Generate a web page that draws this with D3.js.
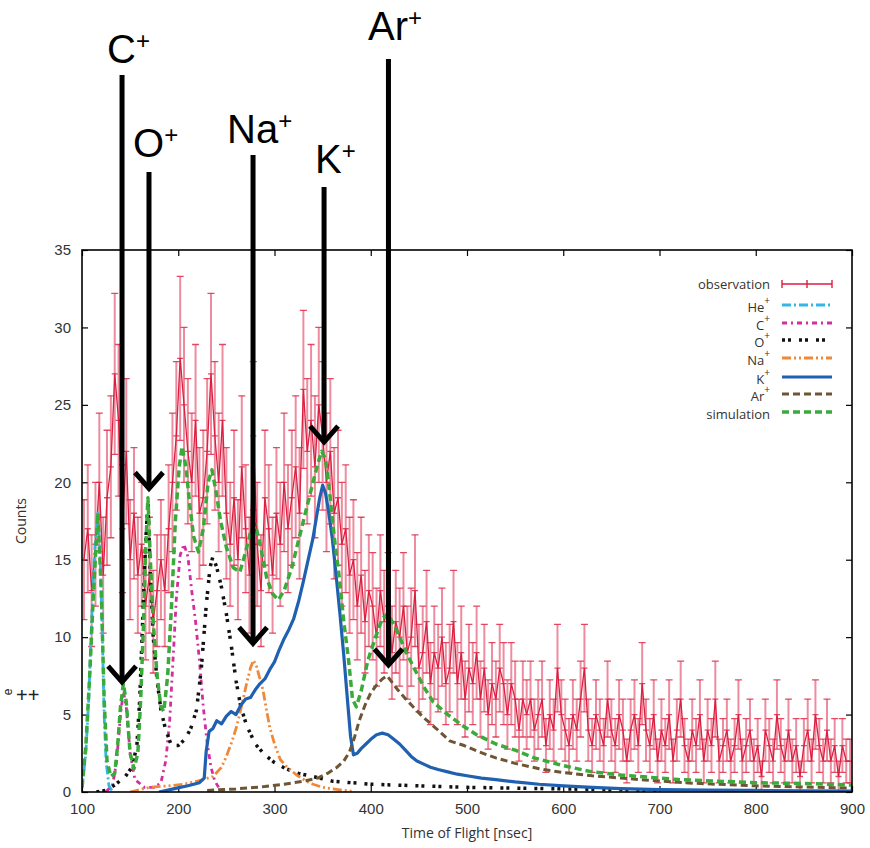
<!DOCTYPE html>
<html>
<head>
<meta charset="utf-8">
<script src="https://cdn.jsdelivr.net/npm/d3@7"></script>
<style>
    body { margin: 0; background: #fff; }
    svg { display: block; font-family: "Open Sans", "Liberation Sans", sans-serif; }
    .axis text { font-size: 15px; fill: #333; }
    .axis line { stroke: #000; stroke-width: 1.2; }
    .ion { font-family: "Liberation Sans", Arial, sans-serif; font-size: 40px; fill: #000; }
    .legend text { font-size: 13px; fill: #333; }
</style>
</head>
<body>
<svg width="870" height="848"></svg>

<script>
    // observation: counts per 4 ns bin (bin centres 102 ... 898)
    const obsTof = d3.range(102, 900, 4);
    const obsCounts = [
        15, 17, 13, 16, 20, 14, 19, 21, 27, 24,
        17, 22, 15, 18, 14, 16, 12, 14, 11, 13,
        15, 13, 17, 20, 23, 28, 25, 22, 20, 24,
        18, 19, 22, 27, 23, 20, 24, 18, 16, 19,
        15, 21, 17, 14, 23, 16, 13, 19, 17, 14,
        18, 16, 20, 17, 19, 21, 18, 26, 22, 24,
        21, 25, 23, 20, 22, 18, 19, 16, 17, 14,
        15, 12, 14, 11, 13, 12, 10, 13, 11, 12,
        9, 11, 10, 12, 9, 10, 13, 8, 9, 11,
        7, 9, 8, 10, 7, 8, 11, 7, 9, 6,
        8, 7, 9, 6, 8, 5, 7, 6, 8, 7,
        5, 7, 6, 4, 6, 5, 6, 4, 5, 6,
        3, 5, 4, 8, 5, 4, 3, 5, 4, 6,
        8, 4, 3, 5, 4, 3, 6, 4, 3, 5,
        4, 2, 4, 5, 3, 7, 4, 3, 5, 2,
        4, 3, 5, 2, 4, 6, 3, 2, 4, 3,
        5, 2, 4, 3, 6, 2, 3, 4, 2, 3,
        5, 2, 3, 4, 2, 3, 1, 4, 3, 2,
        5, 3, 2, 4, 2, 3, 1, 3, 4, 2,
        5, 3, 2, 4, 2, 3, 1, 3, 2, 2
    ];

    // simulated components
    const heTof = [100, 104, 107, 110, 113, 116.5, 119, 121, 123, 125, 128, 132];
    const heCounts = [0.3, 2.5, 6, 11, 15.5, 18, 15, 10.5, 5, 2, 0.4, 0];

    const cTof = [125, 132, 136, 140, 143, 146, 150, 155, 165, 175, 182, 187, 191, 195, 198, 202, 206, 210, 214, 218, 222, 226, 230, 234, 238, 243, 250];
    const cCounts = [0, 0.5, 2, 5, 6.5, 5.5, 2.5, 0.8, 0.3, 0.3, 0.6, 2, 4.5, 9, 12.5, 15.3, 16, 15.2, 13, 11, 8.5, 5.5, 3.2, 1.6, 0.7, 0.2, 0.05];

    const oTof = [115, 125, 135, 145, 152, 157, 160, 163, 166, 168.5, 171, 174, 178, 182, 187, 193, 200, 207, 213, 219, 224, 229, 233, 236, 240, 245, 250, 255, 260, 265, 271, 280, 290, 300, 312, 325, 340, 360, 400, 450, 500, 550, 600, 700];
    const oCounts = [0, 0.1, 0.5, 1.0, 1.6, 3, 6, 11, 16, 18.7, 14, 10, 7.2, 5.3, 4, 3, 3, 3.4, 4.1, 5.3, 8, 12, 14.5, 15.2, 14.5, 13.2, 11.5, 9.5, 7.2, 5.5, 4.3, 3.1, 2.4, 1.9, 1.5, 1.2, 1.0, 0.7, 0.5, 0.4, 0.3, 0.25, 0.2, 0.1];

    const naTof = [150, 170, 190, 205, 220, 236, 245, 250, 256, 261, 266, 271, 275, 278, 281, 284, 288, 292, 295, 300, 306, 313, 323, 333, 340, 350, 360, 380];
    const naCounts = [0, 0.3, 0.4, 0.5, 0.7, 1.0, 1.6, 2.3, 3.3, 4.3, 5.6, 7, 8, 8.5, 8.2, 7.5, 6.6, 5.2, 4.2, 3.1, 2.1, 1.6, 1.1, 0.7, 0.5, 0.3, 0.2, 0.05];

    const kTof = [180, 195, 210, 222, 227, 229, 232, 236, 240, 245, 250, 255, 260, 265, 270, 275, 280, 285, 290, 295, 300, 305, 310, 315, 320, 325, 330, 335, 340, 344, 347, 350, 353, 356, 360, 364, 368, 372, 376, 379, 382, 386, 390, 395, 400, 406, 412, 418, 424, 430, 436, 442, 448, 455, 462, 470, 480, 490, 500, 515, 530, 550, 575, 600, 630, 660, 700, 750, 800, 850, 900];
    const kCounts = [0, 0.2, 0.4, 0.6, 0.9, 2.6, 3.9, 4.1, 4.6, 4.4, 4.9, 5.2, 5.0, 5.6, 6.0, 6.1, 6.6, 7.0, 7.3, 7.9, 8.4, 9.2, 9.9, 10.5, 11.2, 12.3, 13.6, 15.0, 16.4, 17.9, 19.0, 19.8, 19.3, 18.2, 16.4, 14.0, 11.5, 8.8, 5.8, 3.6, 2.4, 2.5, 2.8, 3.1, 3.4, 3.7, 3.8, 3.7, 3.4, 3.1, 2.7, 2.3, 2.0, 1.8, 1.6, 1.45, 1.3, 1.15, 1.05, 0.9, 0.8, 0.65, 0.5, 0.4, 0.3, 0.22, 0.15, 0.12, 0.1, 0.08, 0.06];

    const arTof = [230, 260, 290, 310, 330, 345, 355, 365, 372, 378, 383, 388, 394, 400, 406, 412, 417, 422, 428, 435, 444, 455, 468, 482, 497, 512, 530, 550, 575, 600, 630, 660, 690, 725, 760, 800, 850, 900];
    const arCounts = [0.1, 0.2, 0.35, 0.5, 0.7, 0.9, 1.2, 1.6, 2.0, 2.6, 3.5, 4.6, 5.6, 6.4, 6.9, 7.3, 7.5, 7.1, 6.6, 6.1, 5.5, 4.8, 4.1, 3.3, 3.0, 2.6, 2.2, 1.85, 1.5, 1.25, 1.05, 0.9, 0.75, 0.6, 0.5, 0.4, 0.32, 0.25];

    const simTof = [100, 104, 108, 112, 116.5, 120, 123, 126, 130, 134, 137, 140, 143, 146, 150, 154, 158, 161, 164, 166, 168.5, 171, 174, 178, 182, 185, 189, 193, 197, 201, 204, 208, 212, 216, 221, 226, 231, 235, 239, 244, 250, 257, 264, 270, 276, 280, 285, 292, 298, 304, 310, 318, 326, 334, 340, 345, 349, 353, 357, 362, 367, 372, 377, 381, 385, 390, 397, 405, 412, 418, 424, 430, 437, 445, 455, 465, 480, 495, 510, 530, 550, 570, 600, 630, 660, 690, 720, 760, 800, 850, 900];
    const simCounts = [0.3, 3, 7.5, 13, 18, 13, 6, 2, 1.0, 1.2, 3, 5.5, 7, 5.8, 2.5, 1.5, 2.5, 6, 11, 15.5, 19, 15, 11, 7.5, 5.5, 5.2, 7.5, 12, 17.5, 21, 22.3, 21, 18.5, 16.5, 15.5, 17, 20, 20.8, 19.5, 17.5, 15.8, 14.5, 14.2, 15.5, 17, 17.3, 16, 13.8, 12.8, 12.4, 13, 14.5, 16.5, 18.5, 20, 21.2, 22, 21.5, 19.5, 16.5, 14, 11, 8.5, 6, 5.5, 6.5, 8.5, 10, 11.2, 11.5, 10.8, 10, 9, 8, 6.8, 5.8, 5, 4.3, 3.7, 3.1, 2.7, 2.2, 1.7, 1.3, 1.1, 0.95, 0.8, 0.7, 0.6, 0.55, 0.45];

    // axis ticks
    const xTicks = [100, 200, 300, 400, 500, 600, 700, 800, 900];
    const yTicks = [0, 5, 10, 15, 20, 25, 30, 35];

    // annotated peaks
    const ionNames = ["C", "O", "Na", "K", "Ar"];
    const ionTof = [141.6, 169.6, 277.7, 351.5, 418.4];
    const ionTipCounts = [7.1, 19.6, 9.6, 22.6, 8.2];

    // label layout (pixels)
    const ionLabelLeft = [107, 133, 227, 315, 368];
    const ionLabelBase = [63, 157, 143, 173, 40];
    const ionLineTop = [75, 172, 155, 187, 59];

    const svg = d3.select("svg");
    const plotLeft = 82, plotRight = 852, plotTop = 250, plotBottom = 792;

    const x = d3.scaleLinear().domain([100, 900]).range([plotLeft, plotRight]);
    const y = d3.scaleLinear().domain([0, 35]).range([plotBottom, plotTop]);

    svg.append("clipPath").attr("id", "clip")
        .append("rect")
        .attr("x", plotLeft).attr("y", plotTop)
        .attr("width", plotRight - plotLeft).attr("height", plotBottom - plotTop);

    // axes (ticks inward, mirrored)
    const gx = svg.append("g").attr("class", "axis")
        .attr("transform", `translate(0,${plotBottom})`)
        .call(d3.axisBottom(x).tickValues(xTicks).tickSizeInner(-6).tickSizeOuter(0).tickPadding(11));
    const gy = svg.append("g").attr("class", "axis")
        .attr("transform", `translate(${plotLeft},0)`)
        .call(d3.axisLeft(y).tickValues(yTicks).tickSizeInner(-6).tickSizeOuter(0).tickPadding(11));
    const gxt = svg.append("g").attr("class", "axis")
        .attr("transform", `translate(0,${plotTop})`)
        .call(d3.axisTop(x).tickValues(xTicks).tickSizeInner(-6).tickSizeOuter(0).tickFormat(""));
    const gyr = svg.append("g").attr("class", "axis")
        .attr("transform", `translate(${plotRight},0)`)
        .call(d3.axisRight(y).tickValues(yTicks).tickSizeInner(-6).tickSizeOuter(0).tickFormat(""));
    [gx, gy, gxt, gyr].forEach(g => g.select(".domain").remove());

    const plot = svg.append("g").attr("clip-path", "url(#clip)");

    // observation with error bars
    const obs = obsTof.map((t, i) => ({ t: t, c: obsCounts[i], e: Math.sqrt(obsCounts[i]) }));
    const obsColor = "#dc1f40";

    plot.append("g")
        .selectAll("line")
        .data(obs)
        .join("line")
        .attr("x1", d => x(d.t)).attr("x2", d => x(d.t))
        .attr("y1", d => y(d.c - d.e)).attr("y2", d => y(d.c + d.e))
        .attr("stroke", "#e2405f").attr("stroke-opacity", 0.6).attr("stroke-width", 2);

    plot.append("g")
        .selectAll("path")
        .data(obs)
        .join("path")
        .attr("d", d => {
            const cx = x(d.t);
            return `M${cx - 3.5},${y(d.c + d.e)}H${cx + 3.5}M${cx - 3.5},${y(d.c - d.e)}H${cx + 3.5}M${cx - 3},${y(d.c)}H${cx + 3}`;
        })
        .attr("stroke", obsColor).attr("stroke-opacity", 0.8).attr("stroke-width", 1.3);

    plot.append("path")
        .datum(obs)
        .attr("fill", "none")
        .attr("stroke", obsColor)
        .attr("stroke-width", 1.3)
        .attr("d", d3.line().x(d => x(d.t)).y(d => y(d.c)));

    // simulated curves
    const series = [
        { name: "He", tof: heTof, counts: heCounts, color: "#35b6e6", dash: "9,3,2,3", width: 2.8 },
        { name: "C", tof: cTof, counts: cCounts, color: "#d42d9f", dash: "5,4,2,4", width: 2.8 },
        { name: "O", tof: oTof, counts: oCounts, color: "#111", dash: "3,3,3,8", width: 3.5 },
        { name: "Na", tof: naTof, counts: naCounts, color: "#f0883a", dash: "9,3,2,3,2,3", width: 2.8 },
        { name: "K", tof: kTof, counts: kCounts, color: "#1f60b0", dash: null, width: 3.2 },
        { name: "Ar", tof: arTof, counts: arCounts, color: "#6e5533", dash: "7,4", width: 3 },
        { name: "simulation", tof: simTof, counts: simCounts, color: "#3aaa3a", dash: "7,4", width: 3.5 }
    ];

    const line = d3.line().x(d => x(d[0])).y(d => y(d[1]));
    series.forEach(s => {
        plot.append("path")
            .datum(s.tof.map((t, i) => [t, s.counts[i]]))
            .attr("fill", "none")
            .attr("stroke", s.color)
            .attr("stroke-width", s.width)
            .attr("stroke-dasharray", s.dash)
            .attr("stroke-linejoin", "round")
            .attr("d", line);
    });

    // frame
    svg.append("rect")
        .attr("x", plotLeft).attr("y", plotTop)
        .attr("width", plotRight - plotLeft).attr("height", plotBottom - plotTop)
        .attr("fill", "none").attr("stroke", "#000").attr("stroke-width", 1.6);

    // axis labels
    svg.append("text")
        .attr("transform", `translate(26,${(plotTop + plotBottom) / 2}) rotate(-90)`)
        .attr("text-anchor", "middle")
        .attr("font-size", 14).attr("fill", "#333")
        .text("Counts");
    svg.append("text")
        .attr("x", (plotLeft + plotRight) / 2).attr("y", 838)
        .attr("text-anchor", "middle")
        .attr("font-size", 14).attr("fill", "#333")
        .text("Time of Flight [nsec]");

    // legend
    const legend = svg.append("g").attr("class", "legend");
    const rowY = [284, 305, 323, 340, 358, 377, 394, 412];
    const textRight = 770, sampleX0 = 782, sampleX1 = 832;

    legend.append("text").attr("x", textRight).attr("y", rowY[0] + 5)
        .attr("text-anchor", "end").text("observation");
    legend.append("path")
        .attr("d", `M${sampleX0},${rowY[0]}H${sampleX1}M${sampleX0},${rowY[0] - 4}V${rowY[0] + 4}M${sampleX1},${rowY[0] - 4}V${rowY[0] + 4}M${(sampleX0 + sampleX1) / 2},${rowY[0] - 4}V${rowY[0] + 4}`)
        .attr("stroke", obsColor).attr("stroke-width", 1.4).attr("fill", "none");

    series.forEach((s, i) => {
        const ry = rowY[i + 1];
        if (s.name === "simulation") {
            legend.append("text").attr("x", textRight).attr("y", ry + 7)
                .attr("text-anchor", "end").text(s.name);
        } else {
            const t = legend.append("text").attr("x", textRight).attr("y", ry + 7)
                .attr("text-anchor", "end");
            t.append("tspan").text(s.name);
            t.append("tspan").attr("font-size", 10).attr("dy", -8).text("+");
        }
        legend.append("line")
            .attr("x1", sampleX0).attr("x2", sampleX1)
            .attr("y1", ry).attr("y2", ry)
            .attr("stroke", s.color)
            .attr("stroke-width", s.width)
            .attr("stroke-dasharray", s.dash);
    });

    // peak annotations
    const ann = svg.append("g");
    ionNames.forEach((n, i) => {
        const ax = x(ionTof[i]);
        const tipY = y(ionTipCounts[i]);
        ann.append("line")
            .attr("x1", ax).attr("x2", ax)
            .attr("y1", ionLineTop[i]).attr("y2", tipY - 2)
            .attr("stroke", "#000").attr("stroke-width", 5);
        ann.append("path")
            .attr("d", `M${ax - 14},${tipY - 16}L${ax},${tipY}L${ax + 14},${tipY - 16}`)
            .attr("fill", "none").attr("stroke", "#000").attr("stroke-width", 5)
            .attr("stroke-linejoin", "miter");
        const t = ann.append("text").attr("class", "ion")
            .attr("x", ionLabelLeft[i]).attr("y", ionLabelBase[i]);
        t.append("tspan").text(n);
        t.append("tspan").attr("font-size", 24).attr("dy", -14).text("+");
    });

    // stray label fragment at left edge
    svg.append("text")
        .attr("transform", "translate(12,692) rotate(-90)")
        .attr("text-anchor", "middle")
        .attr("font-family", "Liberation Sans, Arial, sans-serif")
        .attr("font-size", 12).attr("fill", "#222")
        .text("e");
    svg.append("text")
        .attr("x", 16).attr("y", 702)
        .attr("font-family", "Liberation Sans, Arial, sans-serif")
        .attr("font-size", 20).attr("fill", "#222")
        .text("++");
</script>
</body>
</html>
